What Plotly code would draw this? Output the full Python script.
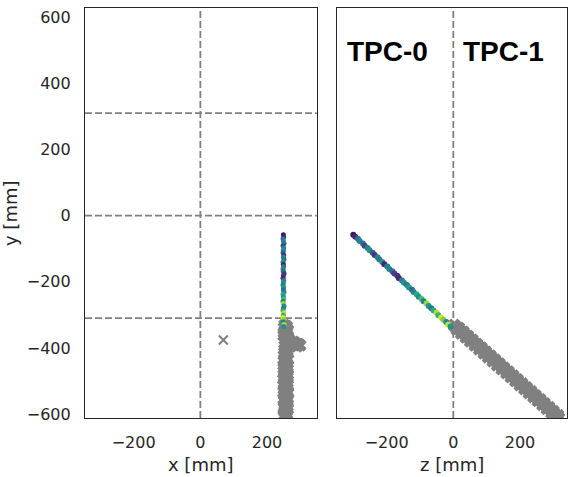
import plotly.graph_objects as go

# ---- data ----
x_ticks = [-200, 0, 200]
z_ticks = [-200, 0, 200]
y_ticks = [-600, -400, -200, 0, 200, 400, 600]

y_boundaries = [-310, 0, 310]   # horizontal dashed lines (left panel)
x_boundaries = [0]              # vertical dashed line (left panel)
z_boundaries = [0]              # vertical dashed line (right panel)

# colored (reconstructed) track
trk_y = [-58, -64, -70, -77, -84, -91, -98, -105, -112, -119, -126, -133, -140, -147,
         -154, -161, -168, -175, -182, -189, -196, -203, -210, -217, -224, -231, -238,
         -245, -252, -259, -266, -273, -280, -287, -294, -301, -308, -315, -322, -329, -335]
trk_x = [249, 250, 248, 249, 251, 248, 250, 249, 248, 250, 249, 251, 248, 249,
         250, 248, 249, 251, 249, 248, 250, 249, 248, 250, 249, 251, 248, 249,
         250, 248, 249, 251, 249, 248, 250, 249, 248, 250, 249, 251, 250]
trk_z = [-300, -294, -286, -281, -271, -266, -257, -251, -242, -236, -227, -222, -213, -207,
         -198, -192, -183, -177, -168, -163, -154, -148, -139, -133, -124, -119, -110,
         -104, -95, -89, -80, -74, -66, -59, -50, -45, -36, -30, -21, -15, -8]
trk_c = [0.05, 0.10, 0.35, 0.45, 0.40, 0.20, 0.45, 0.50, 0.30, 0.15, 0.45, 0.40, 0.50, 0.10,
         0.40, 0.45, 0.35, 0.20, 0.15, 0.10, 0.45, 0.50, 0.40, 0.55, 0.35, 0.45, 0.60,
         0.50, 0.70, 0.45, 0.85, 0.50, 0.40, 0.60, 0.90, 0.65, 0.95, 0.80, 0.45, 0.90, 0.50]

# gray (other) track, first set of hits
gray_y = [-330, -336, -342, -348, -354, -360, -366, -372, -378, -384, -390, -396, -402, -408,
          -414, -420, -426, -432, -438, -444, -450, -456, -462, -468, -474, -480, -486, -492,
          -498, -504, -510, -516, -522, -528, -534, -540, -546, -552, -558, -564, -570, -576,
          -582, -588, -594, -600, -606, -612]
gray_x = [252, 260, 255, 263, 250, 258, 254, 262, 270, 285, 298, 290, 256, 262,
          251, 259, 254, 261, 250, 257, 253, 262, 249, 258, 255, 263, 251, 259,
          254, 262, 250, 257, 253, 261, 249, 258, 255, 263, 251, 259, 254, 262,
          250, 257, 253, 261, 249, 258]
gray_z = [3, 9, 11, 22, 25, 36, 39, 49, 52, 63, 66, 77, 79, 90,
          93, 103, 106, 117, 120, 131, 133, 144, 147, 158, 160, 171, 174, 185,
          187, 198, 201, 212, 214, 225, 228, 239, 241, 252, 255, 266, 268, 279,
          282, 293, 295, 306, 309, 318]

# gray track, second set of hits
gray2_y = [-333, -339, -345, -351, -357, -363, -369, -375, -381, -387, -393, -399, -405, -411,
           -417, -423, -429, -435, -441, -447, -453, -459, -465, -471, -477, -483, -489, -495,
           -501, -507, -513, -519, -525, -531, -537, -543, -549, -555, -561, -567, -573, -579,
           -585, -591, -597, -603, -609]
gray2_x = [258, 250, 262, 253, 259, 249, 263, 252, 280, 294, 300, 260, 251, 258,
           262, 250, 257, 264, 252, 260, 249, 256, 263, 251, 259, 253, 262, 248,
           257, 252, 263, 255, 250, 259, 264, 251, 256, 249, 262, 254, 258, 250,
           263, 252, 257, 255, 260]
gray2_z = [2, 17, 10, 31, 23, 44, 37, 58, 50, 71, 64, 85, 77, 98,
           91, 112, 104, 125, 118, 139, 131, 152, 145, 166, 159, 180, 172, 193,
           186, 207, 199, 220, 213, 234, 226, 247, 240, 261, 253, 274, 267, 288,
           280, 301, 294, 315, 308]

# isolated cross
cross_x = [69]
cross_y = [-376]

# ---- figure ----
GRAY = "#808080"
TXT = "#262626"
fig = go.Figure()

gray_marker = dict(symbol="x", size=11, color=GRAY, line=dict(width=0))
fig.add_trace(go.Scatter(x=gray_x, y=gray_y, mode="markers", xaxis="x", yaxis="y",
                         marker=gray_marker))
fig.add_trace(go.Scatter(x=gray2_x, y=gray2_y, mode="markers", xaxis="x", yaxis="y",
                         marker=gray_marker))
fig.add_trace(go.Scatter(x=cross_x, y=cross_y, mode="markers", xaxis="x", yaxis="y",
                         marker=dict(symbol="x-thin-open", size=9, color=GRAY,
                                     line=dict(width=2, color=GRAY))))
fig.add_trace(go.Scatter(x=trk_x, y=trk_y, mode="markers", xaxis="x", yaxis="y",
                         marker=dict(size=5, color=trk_c, colorscale="Viridis",
                                     cmin=0, cmax=1, line=dict(width=0))))

fig.add_trace(go.Scatter(x=gray_z, y=gray_y, mode="markers", xaxis="x2", yaxis="y2",
                         marker=gray_marker))
fig.add_trace(go.Scatter(x=gray2_z, y=gray2_y, mode="markers", xaxis="x2", yaxis="y2",
                         marker=gray_marker))
fig.add_trace(go.Scatter(x=trk_z, y=trk_y, mode="markers", xaxis="x2", yaxis="y2",
                         marker=dict(size=6, color=trk_c, colorscale="Viridis",
                                     cmin=0, cmax=1, line=dict(width=0))))

dash = dict(color=GRAY, width=1.8, dash="7px,3px")
shapes = []
for yb in y_boundaries:
    shapes.append(dict(type="line", xref="x domain", yref="y", x0=0, x1=1, y0=yb, y1=yb,
                       line=dash, layer="below"))
for xb in x_boundaries:
    shapes.append(dict(type="line", xref="x", yref="y domain", x0=xb, x1=xb, y0=0, y1=1,
                       line=dash, layer="below"))
for zb in z_boundaries:
    shapes.append(dict(type="line", xref="x2", yref="y2 domain", x0=zb, x1=zb, y0=0, y1=1,
                       line=dash, layer="below"))

tickfont = dict(family="DejaVu Sans", size=16, color=TXT)
axis_common = dict(showgrid=False, zeroline=False, showline=True, mirror=True,
                   linecolor=TXT, linewidth=1.25, ticks="", tickfont=tickfont)

fig.update_layout(
    width=568, height=477,
    margin=dict(l=85, r=1, t=8, b=59),
    plot_bgcolor="white", paper_bgcolor="white",
    showlegend=False,
    shapes=shapes,
    xaxis=dict(domain=[0, 0.4807], range=[-346, 349], tickvals=x_ticks,
               ticklabelstandoff=10, **axis_common),
    yaxis=dict(range=[-612, 628], tickvals=y_ticks, ticklabelstandoff=10, **axis_common),
    xaxis2=dict(domain=[0.522, 1], range=[-350, 341], tickvals=z_ticks, anchor="y2",
                ticklabelstandoff=10, **axis_common),
    yaxis2=dict(anchor="x2", matches="y", range=[-612, 628], showticklabels=False,
                **axis_common),
    annotations=[
        dict(text="TPC-0", xref="x2", yref="y", x=-196, y=495, showarrow=False,
             font=dict(family="Liberation Sans, Arial", size=28, color="black", weight="bold")),
        dict(text="TPC-1", xref="x2", yref="y", x=152, y=495, showarrow=False,
             font=dict(family="Liberation Sans, Arial", size=28, color="black", weight="bold")),
        dict(text="x [mm]", xref="x domain", yref="paper", x=0.5, y=-0.1146, showarrow=False,
             yanchor="middle", font=dict(family="DejaVu Sans", size=18, color=TXT)),
        dict(text="z [mm]", xref="x2 domain", yref="paper", x=0.5, y=-0.1146, showarrow=False,
             yanchor="middle", font=dict(family="DejaVu Sans", size=18, color=TXT)),
        dict(text="y [mm]", xref="paper", yref="paper", x=-0.1556, y=0.5, showarrow=False,
             textangle=-90, xanchor="center", yanchor="middle",
             font=dict(family="DejaVu Sans", size=18, color=TXT)),
    ],
)

fig.write_html("out.html")
